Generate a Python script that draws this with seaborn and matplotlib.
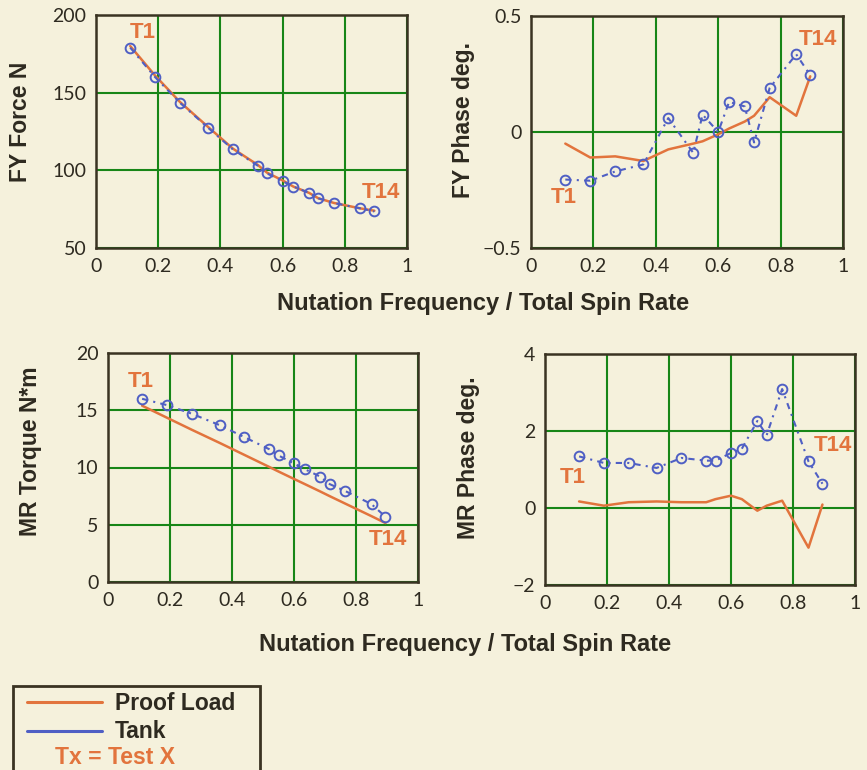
import matplotlib
matplotlib.use("Agg")
import matplotlib.pyplot as plt
from matplotlib.patches import Rectangle
from matplotlib.lines import Line2D
import seaborn as sns
import pandas as pd

# ---------------- data ----------------
freq_ratio = [0.11, 0.19, 0.27, 0.36, 0.44, 0.52, 0.55, 0.60, 0.635, 0.685, 0.715, 0.765, 0.85, 0.895]

fy_force_tank = [179, 160, 143.5, 127.5, 113.5, 103, 98, 93, 89.5, 85.5, 82, 79, 75.5, 73.5]
fy_force_proof = [180, 161, 144, 128, 114, 103.5, 98.5, 93.5, 89.5, 85.5, 82, 79, 75.5, 74]

fy_phase_tank = [-0.205, -0.21, -0.17, -0.14, 0.06, -0.09, 0.075, 0.0, 0.13, 0.11, -0.045, 0.19, 0.335, 0.245]
fy_phase_proof = [-0.05, -0.11, -0.105, -0.125, -0.075, -0.05, -0.04, -0.01, 0.015, 0.045, 0.07, 0.15, 0.07, 0.24]

mr_torque_tank = [16.0, 15.45, 14.7, 13.7, 12.65, 11.6, 11.05, 10.35, 9.85, 9.2, 8.55, 7.95, 6.8, 5.7]
mr_torque_proof = [15.4, 14.35, 13.3, 12.15, 11.1, 10.05, 9.65, 9.0, 8.55, 7.9, 7.5, 6.85, 5.75, 5.15]

mr_phase_tank = [1.34, 1.17, 1.17, 1.04, 1.30, 1.23, 1.23, 1.43, 1.54, 2.26, 1.89, 3.09, 1.21, 0.63]
mr_phase_proof = [0.17, 0.06, 0.15, 0.17, 0.15, 0.15, 0.23, 0.32, 0.23, -0.07, 0.06, 0.19, -1.03, 0.09]

x_ticks = [0, 0.2, 0.4, 0.6, 0.8, 1]
x_tick_labels = ["0", "0.2", "0.4", "0.6", "0.8", "1"]

panels = [
    dict(name="FY Force N", tank=fy_force_tank, proof=fy_force_proof,
         yticks=[50, 100, 150, 200], yticklabels=["50", "100", "150", "200"],
         t1=(0.15, 189), t14=(0.915, 86)),
    dict(name="FY Phase deg.", tank=fy_phase_tank, proof=fy_phase_proof,
         yticks=[-0.5, 0, 0.5], yticklabels=["\u22120.5", "0", "0.5"],
         t1=(0.104, -0.284), t14=(0.92, 0.40)),
    dict(name="MR Torque N*m", tank=mr_torque_tank, proof=mr_torque_proof,
         yticks=[0, 5, 10, 15, 20], yticklabels=["0", "5", "10", "15", "20"],
         t1=(0.105, 17.5), t14=(0.904, 3.7)),
    dict(name="MR Phase deg.", tank=mr_phase_tank, proof=mr_phase_proof,
         yticks=[-2, 0, 2, 4], yticklabels=["\u22122", "0", "2", "4"],
         t1=(0.091, 0.8), t14=(0.93, 1.63)),
]

# ---------------- style ----------------
sns.set_theme(style="white")
BG = "#F5F1DC"
ORANGE = "#E2743D"
BLUE = "#4F5FC4"
GRID = "#178617"
FRAME = "#3A3322"
TEXT = "#2E2A20"
LABEL_FONT = ["Liberation Sans", "DejaVu Sans"]
TICK_FONT = ["Lato", "DejaVu Sans"]
plt.rcParams["font.family"] = ["Liberation Sans", "DejaVu Sans"]

W, H = 867, 770
fig = plt.figure(figsize=(W / 100, H / 100), dpi=100, facecolor=BG)

# pixel boxes: left, right, top, bottom
boxes = [(96, 407, 15, 248), (531, 843, 16, 248), (108, 418, 353, 582), (545, 855, 354, 585)]
ylabel_pos = [(-0.206, 0.54), (-0.18, 0.55), (-0.213, 0.57), (-0.21, 0.55)]

for p, (l, r, t, b), lp in zip(panels, boxes, ylabel_pos):
    ax = fig.add_axes([l / W, 1 - b / H, (r - l) / W, (b - t) / H])
    ax.set_facecolor(BG)
    df = pd.DataFrame({"x": freq_ratio, "tank": p["tank"], "proof": p["proof"]})
    sns.lineplot(data=df, x="x", y="proof", ax=ax, color=ORANGE, linewidth=1.8,
                 estimator=None, sort=False, zorder=3)
    sns.lineplot(data=df, x="x", y="tank", ax=ax, color=BLUE, linewidth=1.5,
                 estimator=None, sort=False, linestyle=(0, (3, 2.5, 1, 2.5)),
                 marker="o", markersize=7, markerfacecolor="none",
                 markeredgecolor=BLUE, markeredgewidth=1.4, zorder=4)
    ax.set_xlim(0, 1)
    ax.set_ylim(p["yticks"][0], p["yticks"][-1])
    ax.set_xticks(x_ticks)
    ax.set_xticklabels(x_tick_labels)
    ax.set_yticks(p["yticks"])
    ax.set_yticklabels(p["yticklabels"])
    ax.tick_params(length=0, pad=7, labelsize=14, colors=TEXT)
    for lab in ax.get_xticklabels() + ax.get_yticklabels():
        lab.set_family(TICK_FONT)
    ax.grid(True, color=GRID, linewidth=1.5, zorder=1)
    ax.set_axisbelow(True)
    for s in ax.spines.values():
        s.set_color(FRAME)
        s.set_linewidth(1.8)
        s.set_visible(True)
    ax.set_xlabel("")
    ax.set_ylabel(p["name"], fontsize=16.5, fontweight="bold", color=TEXT,
                  family=LABEL_FONT)
    ax.yaxis.set_label_coords(*lp)
    ax.text(*p["t1"], "T1", color=ORANGE, fontsize=16, fontweight="bold",
            ha="center", va="center", family=LABEL_FONT, zorder=5)
    ax.text(*p["t14"], "T14", color=ORANGE, fontsize=16, fontweight="bold",
            ha="center", va="center", family=LABEL_FONT, zorder=5)

xlab = "Nutation Frequency / Total Spin Rate"
fig.text(483 / W, 1 - 303 / H, xlab, ha="center", va="center", fontsize=17,
         fontweight="bold", color=TEXT, family=LABEL_FONT)
fig.text(465 / W, 1 - 645 / H, xlab, ha="center", va="center", fontsize=17,
         fontweight="bold", color=TEXT, family=LABEL_FONT)

# ---------------- legend box ----------------
fig.add_artist(Rectangle((13 / W, -0.05), (260 - 13) / W, (1 - 686 / H) + 0.05,
                         transform=fig.transFigure, facecolor="none",
                         edgecolor=FRAME, linewidth=2))
fig.add_artist(Line2D([27 / W, 102 / W], [1 - 702 / H] * 2, transform=fig.transFigure,
                      color=ORANGE, linewidth=2.2))
fig.add_artist(Line2D([27 / W, 102 / W], [1 - 731 / H] * 2, transform=fig.transFigure,
                      color=BLUE, linewidth=2.2))
fig.text(115 / W, 1 - 703 / H, "Proof Load", ha="left", va="center", fontsize=16.5,
         fontweight="bold", color=TEXT, family=LABEL_FONT)
fig.text(115 / W, 1 - 731 / H, "Tank", ha="left", va="center", fontsize=16.5,
         fontweight="bold", color=TEXT, family=LABEL_FONT)
fig.text(55 / W, 1 - 758 / H, "Tx = Test X", ha="left", va="center", fontsize=16.5,
         fontweight="bold", color=ORANGE, family=LABEL_FONT)

fig.savefig("out.png", dpi=100, facecolor=BG)
